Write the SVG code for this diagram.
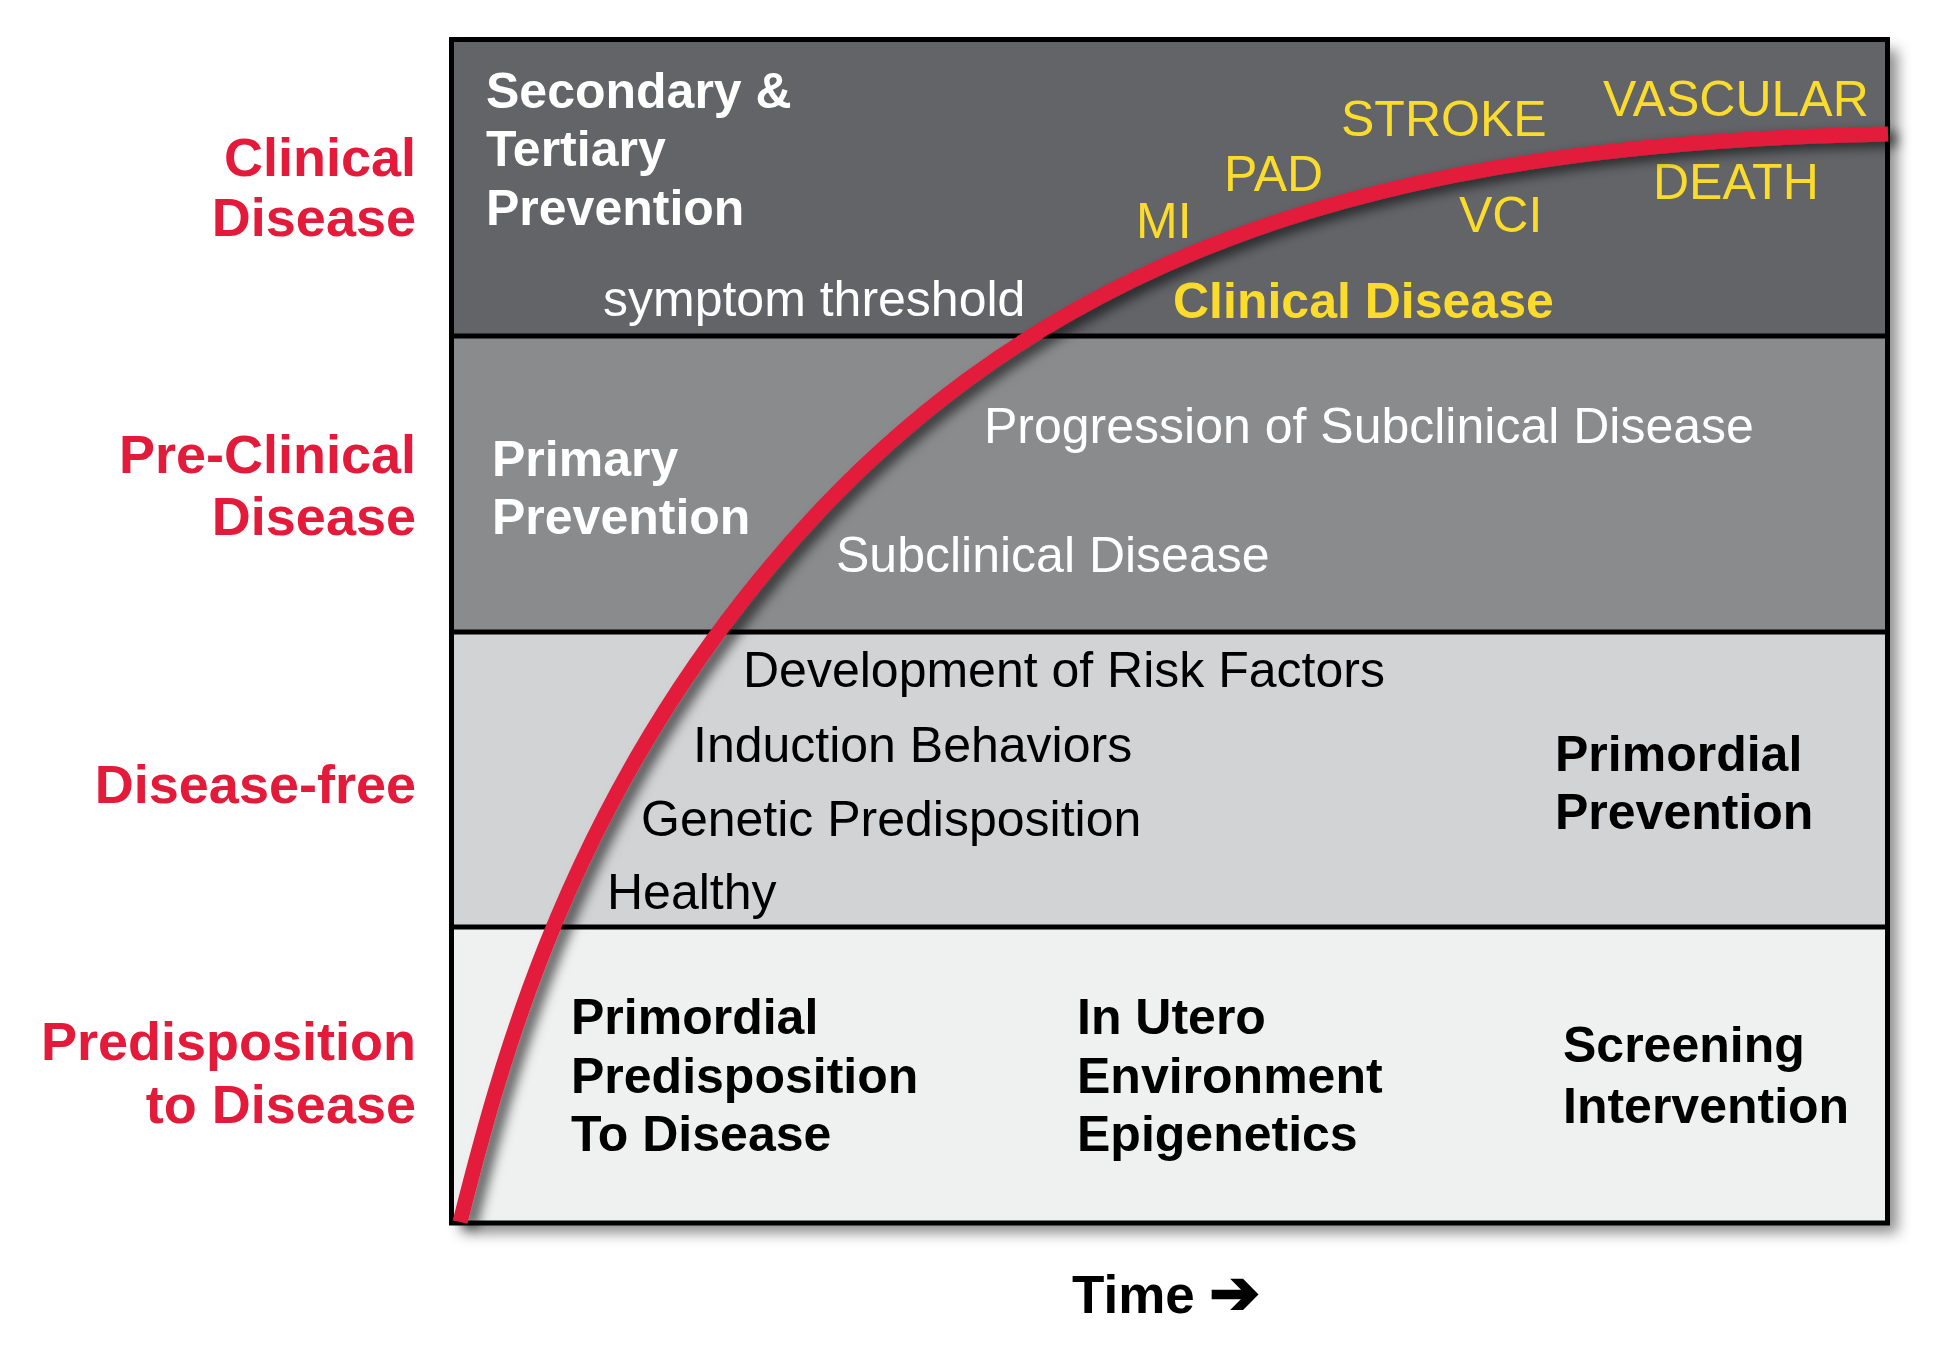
<svg xmlns="http://www.w3.org/2000/svg" width="1950" height="1350" viewBox="0 0 1950 1350">
<style>
text{font-family:"Liberation Sans",Arial,Helvetica,sans-serif;}
.red{fill:#e31a3a;font-weight:bold;font-size:54px;text-anchor:end;}
.wb{fill:#ffffff;font-weight:bold;font-size:50px;}
.wr{fill:#ffffff;font-size:50px;}
.yr{fill:#fbdc2c;font-size:50px;}
.yb{fill:#fbdc2c;font-weight:bold;font-size:50px;}
.kr{fill:#000000;font-size:50px;}
.kb{fill:#000000;font-weight:bold;font-size:50px;}
.divider{stroke:#000000;stroke-width:5;}
</style>
<defs>
<filter id="boxShadow" x="-5%" y="-5%" width="115%" height="115%">
<feDropShadow dx="10" dy="10" stdDeviation="7" flood-color="#000000" flood-opacity="0.45"/>
</filter>
<filter id="curveShadow" x="-10%" y="-10%" width="120%" height="120%">
<feDropShadow dx="9" dy="5" stdDeviation="6" flood-color="#000000" flood-opacity="0.6"/>
</filter>
</defs>
<rect width="1950" height="1350" fill="#ffffff"/>

<g id="frame">
<rect x="451.5" y="39.5" width="1436" height="1183.5" fill="#eff0f0" filter="url(#boxShadow)"/>
</g>

<g id="band-clinical">
<rect x="451.5" y="39.5" width="1436" height="296.5" fill="#636468"/>
</g>
<g id="band-preclinical">
<rect x="451.5" y="336" width="1436" height="296" fill="#8a8b8d"/>
</g>
<g id="band-diseasefree">
<rect x="451.5" y="632" width="1436" height="295" fill="#d2d3d5"/>
</g>
<g id="band-predisposition">
<rect x="451.5" y="927" width="1436" height="296" fill="#eff0f0"/>
</g>

<g id="borders" fill="none">
<line class="divider" x1="451.5" y1="336" x2="1887.5" y2="336"/>
<line class="divider" x1="451.5" y1="632" x2="1887.5" y2="632"/>
<line class="divider" x1="451.5" y1="927" x2="1887.5" y2="927"/>
<rect x="451.5" y="39.5" width="1436" height="1183.5" stroke="#000000" stroke-width="5"/>
</g>

<g id="left-labels">
<text class="red" x="416" y="176">Clinical</text>
<text class="red" x="416" y="236">Disease</text>
<text class="red" x="416" y="473">Pre-Clinical</text>
<text class="red" x="416" y="535">Disease</text>
<text class="red" x="416" y="803">Disease-free</text>
<text class="red" x="416" y="1060">Predisposition</text>
<text class="red" x="416" y="1123">to Disease</text>
</g>

<g id="clinical-texts">
<text class="wb" x="486" y="108">Secondary &amp;</text>
<text class="wb" x="486" y="166">Tertiary</text>
<text class="wb" x="486" y="225">Prevention</text>
<text class="wr" x="603" y="316">symptom threshold</text>
<text class="yr" x="1341" y="136">STROKE</text>
<text class="yr" x="1603" y="116">VASCULAR</text>
<text class="yr" x="1224" y="191">PAD</text>
<text class="yr" x="1136" y="238">MI</text>
<text class="yr" x="1459" y="232">VCI</text>
<text class="yr" x="1653" y="199">DEATH</text>
<text class="yb" x="1173" y="318">Clinical Disease</text>
</g>

<g id="preclinical-texts">
<text class="wb" x="492" y="476">Primary</text>
<text class="wb" x="492" y="534">Prevention</text>
<text class="wr" x="984" y="443">Progression of Subclinical Disease</text>
<text class="wr" x="836" y="572">Subclinical Disease</text>
</g>

<g id="diseasefree-texts">
<text class="kr" x="743" y="687">Development of Risk Factors</text>
<text class="kr" x="693" y="762">Induction Behaviors</text>
<text class="kr" x="641" y="836">Genetic Predisposition</text>
<text class="kr" x="607" y="909">Healthy</text>
<text class="kb" x="1555" y="771">Primordial</text>
<text class="kb" x="1555" y="829">Prevention</text>
</g>

<g id="predisposition-texts">
<text class="kb" x="571" y="1034">Primordial</text>
<text class="kb" x="571" y="1093">Predisposition</text>
<text class="kb" x="571" y="1151">To Disease</text>
<text class="kb" x="1077" y="1034">In Utero</text>
<text class="kb" x="1077" y="1093">Environment</text>
<text class="kb" x="1077" y="1151">Epigenetics</text>
<text class="kb" x="1563" y="1062">Screening</text>
<text class="kb" x="1563" y="1123">Intervention</text>
</g>

<g id="connectors">
<path id="disease-curve" d="M460,1222 C497,1077 558,836 743,600 C1020,245 1388,144 1888,134" fill="none" stroke="#e31a3a" stroke-width="15" filter="url(#curveShadow)"/>
</g>

<g id="axis-label">
<text class="kb" x="1072" y="1313" style="font-size:53px">Time <tspan style="font-family:'DejaVu Sans',sans-serif;font-size:60px;stroke:#000000;stroke-width:2.5">➔</tspan></text>
</g>
</svg>
